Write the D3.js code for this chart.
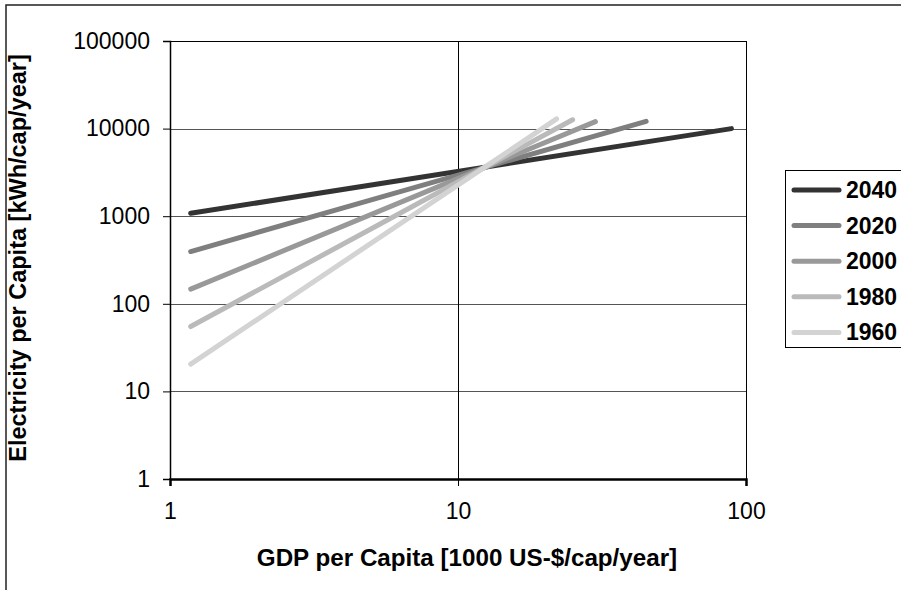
<!DOCTYPE html>
<html>
<head>
<meta charset="utf-8">
<script src="https://cdn.jsdelivr.net/npm/d3@7"></script>
<style>
  body { margin: 0; background: #fff; }
  svg text { font-family: "Liberation Sans", Arial, sans-serif; fill: #000; }
</style>
</head>
<body>
<div id="chart"></div>
<script>
// series, drawn dark first so the light ones end up on top
var years = ['2040', '2020', '2000', '1980', '1960']
var gdpStart = [1.18, 1.18, 1.18, 1.18, 1.18]
var gdpEnd = [89, 45, 30, 25, 22]
var elecStart = [1080, 395, 147, 55, 20.5]
var elecEnd = [10000, 12100, 12000, 12600, 12900]
var colors = ['#333333', '#7f7f7f', '#999999', '#bababa', '#d3d3d3']

var xTicks = [1, 10, 100]
var yTicks = [1, 10, 100, 1000, 10000, 100000]

var W = 901, H = 590
var margin = {top: 41, right: 155, bottom: 111, left: 170}
var width = W - margin.left - margin.right
var height = H - margin.top - margin.bottom

var svg = d3.select('#chart').append('svg').attr('width', W).attr('height', H)

// outer chart border (runs off the right / bottom of the picture)
svg.append('rect').attr('x', 6).attr('y', 5).attr('width', 1000).attr('height', 1000)
  .attr('fill', 'none').attr('stroke', '#222').attr('stroke-width', 1.5)

var g = svg.append('g').attr('transform', `translate(${margin.left},${margin.top})`)

var x_scale = d3.scaleLog().domain([1, 100]).range([0, width])
var y_scale = d3.scaleLog().domain([1, 100000]).range([height, 0])

// gridlines
g.selectAll('.hgrid').data(yTicks).enter().append('line')
  .attr('x1', 0).attr('x2', width)
  .attr('y1', d => Math.round(y_scale(d)) + 0.5).attr('y2', d => Math.round(y_scale(d)) + 0.5)
  .attr('stroke', '#555').attr('stroke-width', 1)
g.selectAll('.vgrid').data(xTicks).enter().append('line')
  .attr('x1', d => Math.round(x_scale(d)) + 0.5).attr('x2', d => Math.round(x_scale(d)) + 0.5)
  .attr('y1', 0).attr('y2', height)
  .attr('stroke', '#000').attr('stroke-width', 1)

// plot frame
g.append('line').attr('x1', 0).attr('x2', width).attr('y1', 0.5).attr('y2', 0.5).attr('stroke', '#000')
g.append('line').attr('x1', width + 0.5).attr('x2', width + 0.5).attr('y1', 0).attr('y2', height).attr('stroke', '#000')

// axes
var x_axis = d3.axisBottom(x_scale).tickValues(xTicks).tickFormat(d3.format('d')).tickSize(7).tickPadding(17)
var y_axis = d3.axisLeft(y_scale).tickValues(yTicks).tickFormat(d3.format('d')).tickSize(7).tickPadding(13)
var gx = g.append('g').attr('transform', `translate(0,${height})`).call(x_axis)
var gy = g.append('g').call(y_axis)
gx.select('.domain').attr('stroke', '#000').attr('stroke-width', 2.5)
gy.select('.domain').attr('stroke', '#000').attr('stroke-width', 1.5)
gx.selectAll('.tick line').attr('stroke', '#000')
gy.selectAll('.tick line').attr('stroke', '#000')
svg.selectAll('.tick text').style('font-family', '"Liberation Sans", Arial, sans-serif').style('font-size', '23px').attr('fill', '#000')

// series
var line = d3.line().x(d => x_scale(d[0])).y(d => y_scale(d[1]))
years.forEach(function (yr, i) {
  g.append('path')
    .datum([[gdpStart[i], elecStart[i]], [gdpEnd[i], elecEnd[i]]])
    .attr('d', line)
    .attr('fill', 'none')
    .attr('stroke', colors[i])
    .attr('stroke-width', 5)
    .attr('stroke-linecap', 'round')
})

// axis titles
svg.append('text').attr('x', 467).attr('y', 566)
  .attr('text-anchor', 'middle').style('font-size', '24.2px').style('font-weight', 'bold')
  .text('GDP per Capita [1000 US-$/cap/year]')
svg.append('text').attr('transform', `translate(26,${margin.top + height / 2 - 2}) rotate(-90)`)
  .attr('text-anchor', 'middle').style('font-size', '23.5px').style('font-weight', 'bold')
  .text('Electricity per Capita [kWh/cap/year]')

// legend
var lg = svg.append('g').attr('transform', 'translate(785,170)')
lg.append('rect').attr('x', 0.5).attr('y', 0.5).attr('width', 200).attr('height', 177)
  .attr('fill', '#fff').attr('stroke', '#000').attr('stroke-width', 1)
var item = lg.selectAll('.legend').data(years).enter().append('g')
  .attr('transform', (d, i) => `translate(0,${20 + i * 35.6})`)
item.append('line').attr('x1', 9).attr('x2', 54).attr('y1', 0).attr('y2', 0)
  .attr('stroke', (d, i) => colors[i]).attr('stroke-width', 5).attr('stroke-linecap', 'round')
item.append('text').attr('x', 61).attr('y', 0).attr('dy', '.35em')
  .style('font-size', '23px').style('font-weight', 'bold')
  .text(d => d)
</script>
</body>
</html>
